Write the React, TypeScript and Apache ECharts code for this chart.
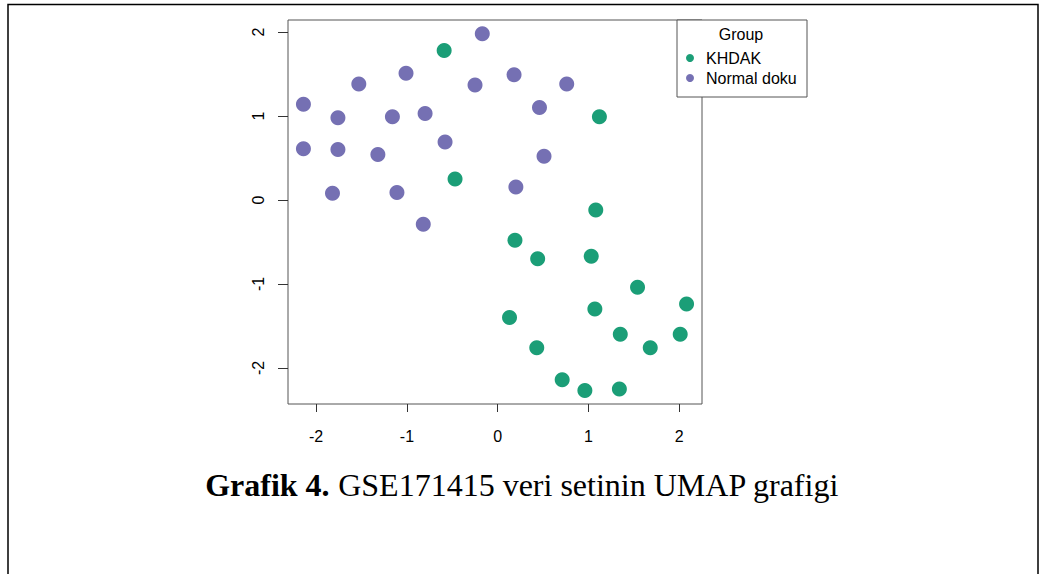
import React, { useEffect, useRef } from "react";
import * as echarts from "echarts";

// UMAP coordinates per sample group
const khdakPoints: [number, number][] = [
  [-0.59, 1.78], [-0.47, 0.25], [1.12, 0.99], [1.08, -0.12], [0.19, -0.48],
  [0.44, -0.7], [1.03, -0.67], [1.54, -1.04], [2.08, -1.24], [1.07, -1.3],
  [0.13, -1.4], [1.35, -1.6], [2.01, -1.6], [0.43, -1.76], [1.68, -1.76],
  [0.71, -2.14], [0.96, -2.27], [1.34, -2.25],
];
const normalPoints: [number, number][] = [
  [-0.17, 1.98], [-1.01, 1.51], [-1.53, 1.38], [-0.25, 1.37], [-2.14, 1.14],
  [-1.76, 0.98], [-1.16, 0.99], [-0.8, 1.03], [-2.14, 0.61], [-1.76, 0.6],
  [-1.32, 0.54], [-0.58, 0.69], [-1.82, 0.08], [-1.11, 0.09], [0.18, 1.49],
  [0.76, 1.38], [0.46, 1.1], [0.51, 0.52], [0.2, 0.155], [-0.82, -0.29],
];
const groupNames = ["KHDAK", "Normal doku"];
const groupColors = ["#1b9e77", "#7570b3"];
const tickValues = [-2, -1, 0, 1, 2];
const legendTitle = "Group";
const captionBold = "Grafik 4.";
const captionText = " GSE171415 veri setinin UMAP grafigi";

const sans = "'Liberation Sans', Arial, sans-serif";
const serif = "'Liberation Serif', 'Times New Roman', serif";

export default function App() {
  const ref = useRef<HTMLDivElement>(null);

  useEffect(() => {
    document.body.style.margin = "0";
    const chart = echarts.init(ref.current!, null, { renderer: "svg" });
    chart.setOption({
      animation: false,
      backgroundColor: "#ffffff",
      grid: {
        left: 288,
        top: 20,
        right: 342,
        bottom: 170,
        show: true,
        borderColor: "#555",
        borderWidth: 1,
      },
      xAxis: {
        type: "value",
        min: -2.31,
        max: 2.25,
        splitLine: { show: false },
        axisLine: { show: false, onZero: false },
        axisTick: { show: true, length: 8, customValues: tickValues, lineStyle: { color: "#333" } },
        axisLabel: {
          customValues: tickValues,
          margin: 24,
          fontSize: 16,
          fontFamily: sans,
          color: "#000",
        },
      },
      yAxis: {
        type: "value",
        min: -2.43,
        max: 2.143,
        splitLine: { show: false },
        axisLine: { show: false, onZero: false },
        axisTick: { show: true, length: 10, customValues: tickValues, lineStyle: { color: "#333" } },
        axisLabel: {
          customValues: tickValues,
          rotate: 90,
          margin: 22,
          fontSize: 16,
          fontFamily: sans,
          color: "#000",
        },
      },
      legend: {
        data: groupNames,
        orient: "vertical",
        left: 686,
        top: 50,
        padding: 0,
        itemGap: 4,
        itemWidth: 8,
        itemHeight: 8,
        icon: "circle",
        z: 20,
        textStyle: { fontSize: 16, fontFamily: sans, color: "#000", padding: [0, 0, 0, 7] },
      },
      series: [
        {
          name: groupNames[0],
          type: "scatter",
          data: khdakPoints,
          symbol: "circle",
          symbolSize: 15,
          itemStyle: { color: groupColors[0], opacity: 1 },
        },
        {
          name: groupNames[1],
          type: "scatter",
          data: normalPoints,
          symbol: "circle",
          symbolSize: 15,
          itemStyle: { color: groupColors[1], opacity: 1 },
        },
      ],
      graphic: [
        {
          type: "rect",
          z: 0,
          shape: { x: 8, y: 4.5, width: 1030, height: 620 },
          style: { fill: "none", stroke: "#000", lineWidth: 1.5 },
          silent: true,
        },
        {
          type: "rect",
          z: 10,
          shape: { x: 677, y: 20, width: 130, height: 77 },
          style: { fill: "#fff", stroke: "#555", lineWidth: 1 },
          silent: true,
        },
        {
          type: "text",
          z: 11,
          x: 741,
          y: 34,
          style: {
            text: legendTitle,
            fontSize: 16,
            fontFamily: sans,
            fill: "#000",
            align: "center",
            verticalAlign: "middle",
          },
        },
        {
          type: "text",
          z: 11,
          x: 522,
          y: 485,
          style: {
            text: "{b|" + captionBold + "}{r|" + captionText + "}",
            align: "center",
            verticalAlign: "middle",
            rich: {
              b: { fontSize: 32, fontFamily: serif, fontWeight: "bold", fill: "#000" },
              r: { fontSize: 32, fontFamily: serif, fill: "#000" },
            },
          },
        },
      ],
    });
    return () => chart.dispose();
  }, []);

  return <div ref={ref} style={{ width: 1044, height: 574 }} />;
}
